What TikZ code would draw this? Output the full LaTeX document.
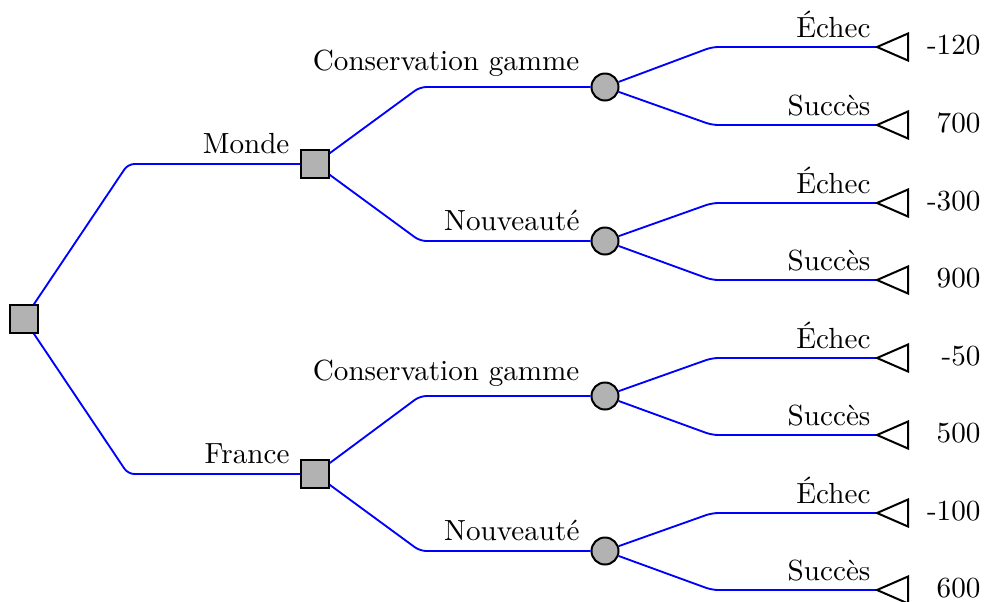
\documentclass[tikz,border=0pt]{standalone}
\usetikzlibrary{shapes.geometric}
\begin{document}
\begin{tikzpicture}[x=0.35pt,y=-0.35pt,
  decision/.style={draw=black,fill=black!30,line width=0.7pt,minimum size=27.5*0.35pt,inner sep=0pt,rectangle},
  chance/.style={draw=black,fill=black!30,line width=0.7pt,minimum size=27*0.35pt,inner sep=0pt,circle},
  branch/.style={draw=blue,line width=0.65pt,rounded corners=2.2pt},
  term/.style={draw=black,line width=0.7pt,fill=white},
  lbl/.style={anchor=base east,inner sep=0pt,font=\fontsize{10.2}{12}\selectfont},
  val/.style={anchor=base east,inner sep=0pt,font=\fontsize{10.2}{12}\selectfont}]
\useasboundingbox (0,0) rectangle (984,601);
% decision nodes
\node[decision] (r) at (24,319) {};
\node[decision] (m) at (315,164) {};
\node[decision] (f) at (315,474) {};
% chance nodes
\node[chance] (c1) at (605,87) {};
\node[chance] (c2) at (605,241) {};
\node[chance] (c3) at (605,396) {};
\node[chance] (c4) at (605,551) {};
% terminal points
\foreach \i/\y in {1/47,2/125,3/203,4/280,5/358,6/435,7/513,8/590}{
  \coordinate (t\i) at (877,\y);
}
% first level
\draw[branch] (r) -- (128,164) -- (m);
\draw[branch] (r) -- (128,474) -- (f);
\node[lbl] (lm) at (290,153) {Monde};
\node[lbl] (lf) at (290,463) {France};
% second level
\draw[branch] (m) -- (420,87) -- (c1);
\draw[branch] (m) -- (420,241) -- (c2);
\draw[branch] (f) -- (420,396) -- (c3);
\draw[branch] (f) -- (420,551) -- (c4);
\node[lbl] (l1) at (580,70) {Conservation gamme};
\node[lbl] (l2) at (580,230) {Nouveauté};
\node[lbl] (l3) at (580,380) {Conservation gamme};
\node[lbl] (l4) at (580,540) {Nouveauté};
% third level
\foreach \c/\a/\b in {c1/1/2,c2/3/4,c3/5/6,c4/7/8}{
  \path (t\a) ++(-165,0) coordinate (k\a);
  \path (t\b) ++(-165,0) coordinate (k\b);
  \draw[branch] (\c) -- (k\a) -- (t\a);
  \draw[branch] (\c) -- (k\b) -- (t\b);
  \node[lbl] at ([shift={(-6,-10)}]t\a) {\'Echec};
  \node[lbl] at ([shift={(-6,-10)}]t\b) {Succès};
}
% terminals
\foreach \i/\v in {1/-120,2/700,3/-300,4/900,5/-50,6/500,7/-100,8/600}{
  \draw[term] (t\i) -- ++(31,-13.5) -- ++(0,27) -- cycle;
  \node[val] (v\i) at ([shift={(104,7)}]t\i) {\v};
}
\end{tikzpicture}
\end{document}
